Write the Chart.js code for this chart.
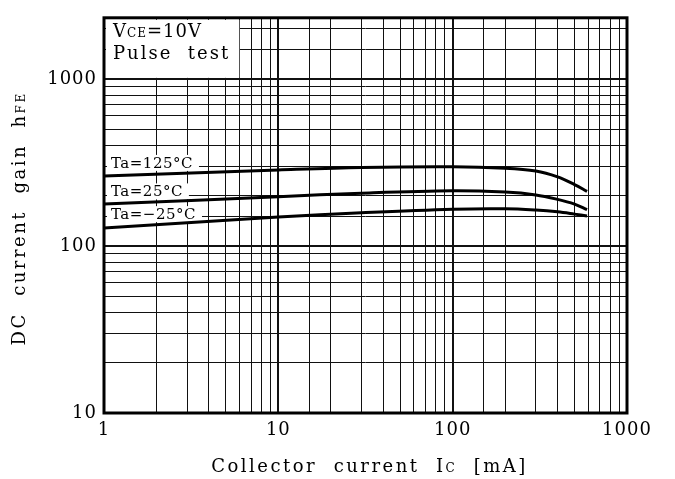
<!DOCTYPE html>
<html>
<head>
<meta charset="utf-8">
<script src="https://cdn.jsdelivr.net/npm/chart.js@4.4.1/dist/chart.umd.min.js"></script>
<style>
    html, body { margin: 0; padding: 0; background: #fff; }
    #wrap { width: 675px; height: 479px; }
</style>
</head>
<body>
<div id="wrap"><canvas id="c"></canvas></div>
<script>
// collector current Ic [mA]
const currents = [1, 10, 30, 100, 200, 300, 400, 500, 590];
// DC current gain hFE per temperature
const hfe125 = [262, 285, 295, 298, 292, 281, 259, 233, 212];
const hfe25 = [178, 197, 207, 214, 210, 202, 190, 178, 165];
const hfeMinus25 = [128, 149, 158, 166, 167, 164, 160, 155, 151];

const curveLabels = ["Ta=125°C", "Ta=25°C", "Ta=−25°C"];
const curveLabelY = [314, 212, 155];

const xTickLabels = [1, 10, 100, 1000];
const yTickLabels = [10, 100, 1000];

const FONT = "'DejaVu Serif', serif";

const toPoints = (ys) => currents.map((x, i) => ({ x, y: ys[i] }));
const isDecade = (v) => Math.abs(Math.log10(v) - Math.round(Math.log10(v))) < 1e-9;

const curveStyle = {
    borderColor: "#000",
    borderWidth: 3,
    pointRadius: 0,
    fill: false,
    tension: 0.35
};

const decor = {
    id: "decor",
    beforeDraw(chart) {
        chart.ctx.letterSpacing = "1px";
    },
    beforeDatasetsDraw(chart) {
        const { ctx, chartArea: a, scales: { x, y } } = chart;
        ctx.save();

        // white box for the test conditions
        ctx.fillStyle = "#fff";
        const boxRight = x.getPixelForValue(5.97);
        ctx.fillRect(a.left + 2, a.top + 2, boxRight - a.left - 2, y.getPixelForValue(1000) - a.top - 3);

        ctx.fillStyle = "#000";
        ctx.textBaseline = "alphabetic";
        ctx.letterSpacing = "1px";
        let tx = a.left + 9;
        ctx.font = `18px ${FONT}`;
        ctx.fillText("V", tx, 37);
        tx += ctx.measureText("V").width;
        ctx.font = `12px ${FONT}`;
        ctx.fillText("CE", tx, 37);
        tx += ctx.measureText("CE").width;
        ctx.font = `18px ${FONT}`;
        ctx.fillText("=10V", tx, 37);
        ctx.letterSpacing = "2px";
        ctx.fillText("Pulse  test", a.left + 9, 59);

        // curve labels with white backing
        ctx.font = `15px ${FONT}`;
        ctx.letterSpacing = "0.5px";
        ctx.textBaseline = "middle";
        curveLabels.forEach((txt, i) => {
            const py = y.getPixelForValue(curveLabelY[i]);
            const w = ctx.measureText(txt).width;
            ctx.fillStyle = "#fff";
            ctx.fillRect(a.left + 3, py - 8, w + 10, 16);
            ctx.fillStyle = "#000";
            ctx.fillText(txt, a.left + 7, py + 1);
        });
        ctx.restore();
    },
    afterDraw(chart) {
        const { ctx, chartArea: a } = chart;
        ctx.save();
        ctx.strokeStyle = "#000";
        ctx.lineWidth = 3;
        ctx.strokeRect(a.left, a.top, a.right - a.left, a.bottom - a.top);

        ctx.fillStyle = "#000";
        ctx.letterSpacing = "2.5px";
        ctx.textBaseline = "middle";

        // x axis title
        const big = `18px ${FONT}`, small = `12px ${FONT}`;
        const partsX = [["Collector  current  I", big], ["C", small], ["  [mA]", big]];
        let total = 0;
        partsX.forEach(([t, f]) => { ctx.font = f; total += ctx.measureText(t).width; });
        let px = (a.left + a.right) / 2 + 4 - total / 2;
        partsX.forEach(([t, f]) => {
            ctx.font = f;
            ctx.fillText(t, px, f === small ? 469 : 467);
            px += ctx.measureText(t).width;
        });

        // y axis title
        ctx.translate(20, (a.top + a.bottom) / 2 + 3);
        ctx.rotate(-Math.PI / 2);
        const partsY = [["DC  current  gain  h", big], ["FE", small]];
        total = 0;
        partsY.forEach(([t, f]) => { ctx.font = f; total += ctx.measureText(t).width; });
        px = -total / 2;
        partsY.forEach(([t, f]) => {
            ctx.font = f;
            ctx.fillText(t, px, f === small ? 2 : 0);
            px += ctx.measureText(t).width;
        });
        ctx.restore();
    }
};

new Chart(document.getElementById("c"), {
    type: "line",
    data: {
        datasets: [
            { label: curveLabels[0], data: toPoints(hfe125), ...curveStyle },
            { label: curveLabels[1], data: toPoints(hfe25), ...curveStyle },
            { label: curveLabels[2], data: toPoints(hfeMinus25), ...curveStyle }
        ]
    },
    options: {
        responsive: true,
        maintainAspectRatio: false,
        animation: false,
        layout: { padding: { top: 13, right: 48, left: 0, bottom: 0 } },
        plugins: {
            legend: { display: false },
            tooltip: { enabled: false }
        },
        scales: {
            x: {
                type: "logarithmic",
                min: 1,
                max: 1000,
                afterFit: (s) => { s.height = 66; },
                border: { display: false },
                grid: {
                    color: "#111",
                    drawTicks: false,
                    lineWidth: (c) => (isDecade(c.tick.value) ? 2 : 1)
                },
                ticks: {
                    padding: 7,
                    color: "#000",
                    font: { family: FONT, size: 18 },
                    maxRotation: 0,
                    autoSkip: false,
                    callback: (v) => (xTickLabels.includes(v) ? String(v) : "")
                }
            },
            y: {
                type: "logarithmic",
                min: 10,
                max: 2320,
                afterFit: (s) => { s.width = 104; },
                border: { display: false },
                grid: {
                    color: "#111",
                    drawTicks: false,
                    lineWidth: (c) => (isDecade(c.tick.value) ? 2 : 1)
                },
                ticks: {
                    padding: 7,
                    color: "#000",
                    font: { family: FONT, size: 18 },
                    autoSkip: false,
                    callback: (v) => (yTickLabels.includes(v) ? String(v) : "")
                }
            }
        }
    },
    plugins: [decor]
});
</script>
</body>
</html>
